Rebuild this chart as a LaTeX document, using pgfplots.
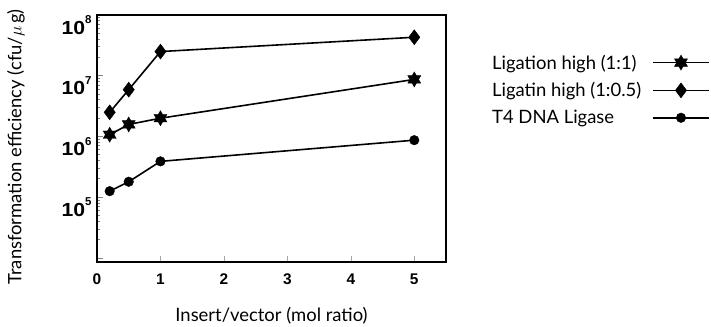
\documentclass[border=0pt]{standalone}
\usepackage{pgfplots}
\pgfplotsset{compat=1.18}
\usepackage{fontspec}
\setmainfont{Lato}
\newfontfamily\tickfont{Liberation Sans}

\pgfdeclareplotmark{hexstar}{%
  \pgfpathmoveto{\pgfpointpolar{90}{\pgfplotmarksize}}%
  \pgfpathlineto{\pgfpointpolar{120}{0.577\pgfplotmarksize}}%
  \pgfpathlineto{\pgfpointpolar{150}{\pgfplotmarksize}}%
  \pgfpathlineto{\pgfpointpolar{180}{0.577\pgfplotmarksize}}%
  \pgfpathlineto{\pgfpointpolar{210}{\pgfplotmarksize}}%
  \pgfpathlineto{\pgfpointpolar{240}{0.577\pgfplotmarksize}}%
  \pgfpathlineto{\pgfpointpolar{270}{\pgfplotmarksize}}%
  \pgfpathlineto{\pgfpointpolar{300}{0.577\pgfplotmarksize}}%
  \pgfpathlineto{\pgfpointpolar{330}{\pgfplotmarksize}}%
  \pgfpathlineto{\pgfpointpolar{0}{0.577\pgfplotmarksize}}%
  \pgfpathlineto{\pgfpointpolar{30}{\pgfplotmarksize}}%
  \pgfpathlineto{\pgfpointpolar{60}{0.577\pgfplotmarksize}}%
  \pgfpathclose
  \pgfusepathqfillstroke}

\newcommand\legtext[1]{\makebox[160bp][l]{#1}}

\begin{document}
\begin{tikzpicture}
\useasboundingbox (-97bp,-65bp) rectangle (614bp,262bp);
\begin{axis}[
  scale only axis, width=349bp, height=247bp,
  ymode=log, xmin=0, xmax=5.5, ymin=8.6e3, ymax=1e8,
  axis line style={line width=1.4bp},
  xtick={0,1,2,3,4,5}, xticklabels={0,1,2,3,4,5},
  xtick pos=bottom, ytick pos=left, tick align=inside,
  xtick style={line width=0.5bp, black!35},
  ytick style={line width=1bp},
  major tick length=6bp, minor tick length=3bp,
  ytick={1e4,1e5,1e6,1e7,1e8},
  yticklabel={\pgfmathtruncatemacro\ee{round(\tick/2.302585093)}\ifnum\ee>4 \scalebox{1.12}[1]{10}\raisebox{0.55em}{\fontsize{11.5}{11.5}\selectfont\ee}\fi},
  yticklabel style={font=\tickfont\bfseries\fontsize{19}{19}\selectfont, yshift=-10bp, xshift=-2bp},
  xticklabel style={font=\tickfont\bfseries\fontsize{15.5}{15.5}\selectfont, yshift=-8bp},
  xlabel={Insert/vector (mol ratio)},
  ylabel={Transformation efficiency (cfu/$\mu$\,g)},
  xlabel style={font=\fontsize{18.5}{18.5}\selectfont, at={(axis description cs:0.5,0)}, anchor=center, yshift=-54bp},
  ylabel style={font=\fontsize{18.5}{18.5}\selectfont, at={(axis description cs:-0.232,0.466)}, anchor=center},
  every axis plot/.append style={line width=1.6bp, black},
  legend style={legend plot pos=right, draw=none, fill=none, font=\fontsize{18.5}{18.5}\selectfont,
    at={(axis description cs:1.1318,0.84)}, anchor=north west, row sep=12bp, column sep=0pt,
    inner sep=0pt, nodes={inner sep=0pt}, cells={anchor=west}},
  legend image code/.code={\draw[mark repeat=2,mark phase=2,#1] plot coordinates {(0bp,0bp) (28bp,0bp) (56bp,0bp)};},
  clip=false,
]
\addplot[mark=hexstar, mark size=7.5bp, mark options={solid, line width=0.4bp}] coordinates {
  (0.2,1.07e6) (0.5,1.58e6) (1,2.0e6) (5,8.7e6)};
\addlegendentry{\legtext{Ligation high (1:1)}}
\addplot[mark=diamond*, mark size=7.5bp, mark options={solid, line width=0.4bp}] coordinates {
  (0.2,2.5e6) (0.5,5.9e6) (1,2.5e7) (5,4.3e7)};
\addlegendentry{\legtext{Ligatin high (1:0.5)}}
\addplot[mark=*, mark size=4.8bp, mark options={solid, line width=0.4bp}] coordinates {
  (0.2,1.26e5) (0.5,1.8e5) (1,3.9e5) (5,8.7e5)};
\addlegendentry{\legtext{T4 DNA Ligase}}
\end{axis}
\end{tikzpicture}
\end{document}
